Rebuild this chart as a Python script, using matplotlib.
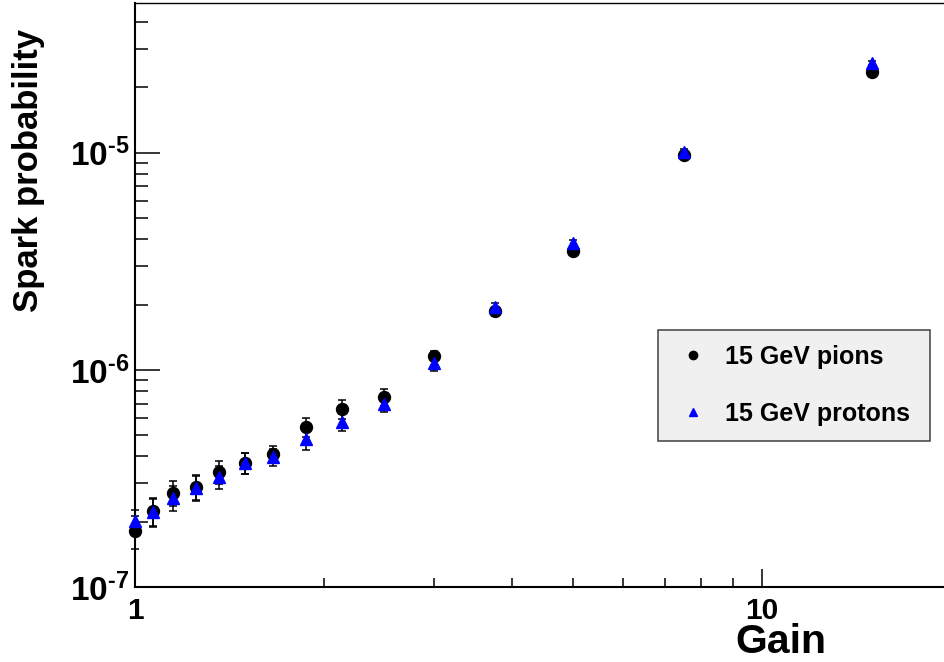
import matplotlib
matplotlib.use('Agg')
import matplotlib.pyplot as plt
from matplotlib.lines import Line2D
from matplotlib.ticker import LogLocator, NullFormatter, FixedLocator, FixedFormatter

plt.rcParams['font.family'] = 'Liberation Sans'
plt.rcParams['font.weight'] = 'bold'
plt.rcParams['mathtext.fontset'] = 'custom'
plt.rcParams['mathtext.rm'] = 'Liberation Sans:bold'
plt.rcParams['mathtext.bf'] = 'Liberation Sans:bold'

# data
gain = [1.0, 1.07, 1.15, 1.25, 1.36, 1.5, 1.66, 1.875, 2.14, 2.5, 3.0, 3.75, 5.0, 7.5, 15.0]
pions = [1.81e-7, 2.24e-7, 2.71e-7, 2.89e-7, 3.39e-7, 3.73e-7, 4.10e-7, 5.46e-7,
         6.61e-7, 7.51e-7, 1.16e-6, 1.87e-6, 3.54e-6, 9.8e-6, 2.36e-5]
protons = [2.01e-7, 2.22e-7, 2.57e-7, 2.86e-7, 3.21e-7, 3.73e-7, 3.97e-7, 4.81e-7,
           5.76e-7, 6.97e-7, 1.08e-6, 1.95e-6, 3.85e-6, 1.01e-5, 2.6e-5]
# relative errors
pion_rel = [0.17, 0.15, 0.13, 0.13, 0.12, 0.11, 0.09, 0.10, 0.10, 0.09, 0.05, 0.04, 0.03, 0.03, 0.02]
proton_rel = [0.12, 0.15, 0.13, 0.13, 0.12, 0.11, 0.09, 0.11, 0.09, 0.08, 0.08, 0.04, 0.03, 0.03, 0.02]

y_ticks = [1e-7, 1e-6, 1e-5]
y_ticklabels = [r'$\mathdefault{10^{\text{-}7}}$', r'$\mathdefault{10^{\text{-}6}}$',
                r'$\mathdefault{10^{\text{-}5}}$']

pion_err = [v * r for v, r in zip(pions, pion_rel)]
proton_err = [v * r for v, r in zip(protons, proton_rel)]

fig = plt.figure(figsize=(9.45, 6.62), dpi=100)
ax = fig.add_axes([0.1429, 0.1133, 0.8571, 0.8822])

eb1 = ax.errorbar(gain, pions, yerr=pion_err, fmt='o', color='black', ms=8.6,
                  elinewidth=1.1, capsize=2.9, capthick=1.1, zorder=3)
eb2 = ax.errorbar(gain, protons, yerr=proton_err, fmt='^', mfc='blue', mec='blue',
                  ecolor='black', ms=8.6, elinewidth=1.1, capsize=2.9, capthick=1.1, zorder=4)
for eb in (eb1, eb2):
    for art in eb.get_children():
        art.set_clip_on(False)

ax.set_xscale('log')
ax.set_yscale('log')
ax.set_xlim(1, 19.6)
ax.set_ylim(1e-7, 4.9e-5)

ax.set_xticks([1, 10], labels=['1', '10'])
ax.xaxis.set_minor_locator(LogLocator(base=10, subs=range(2, 10)))
ax.xaxis.set_minor_formatter(NullFormatter())
ax.yaxis.set_major_locator(FixedLocator(y_ticks))
ax.yaxis.set_major_formatter(FixedFormatter(y_ticklabels))
ax.yaxis.set_minor_locator(LogLocator(base=10, subs=range(2, 10)))
ax.yaxis.set_minor_formatter(NullFormatter())

ax.tick_params(which='both', direction='in', top=False, right=False, width=1.1)
ax.tick_params(axis='x', which='major', length=13, pad=7, labelsize=21.5)
ax.tick_params(axis='x', which='minor', length=6.5)
ax.tick_params(axis='y', which='major', length=18, pad=4, labelsize=24)
ax.tick_params(axis='y', which='minor', length=9.4)

ax.spines['right'].set_visible(False)
ax.spines['top'].set_linewidth(1.0)
ax.spines['left'].set_linewidth(1.5)
ax.spines['bottom'].set_linewidth(1.5)

ax.set_ylabel('Spark probability', fontsize=25, fontweight='bold', loc='top')
ax.yaxis.set_label_coords(-0.111, 0.955)
ax.set_xlabel('Gain', fontsize=29.5, fontweight='bold', loc='right')
ax.xaxis.set_label_coords(0.854, -0.062)

handles = [Line2D([], [], ls='none', marker='o', color='black', ms=6),
           Line2D([], [], ls='none', marker='^', color='blue', ms=6)]
leg = ax.legend(handles, ['15 GeV pions', '15 GeV protons'], loc='upper left',
                bbox_to_anchor=(0.646, 0.44, 0.335, 0), mode='expand', fontsize=18,
                frameon=True, fancybox=False, framealpha=1, facecolor='#f0f0f0',
                edgecolor='#404040', borderpad=0.6, labelspacing=1.3,
                handlelength=1.6, handletextpad=0.45, borderaxespad=0)
leg.get_frame().set_linewidth(1.1)

fig.savefig('out.png', dpi=100)
